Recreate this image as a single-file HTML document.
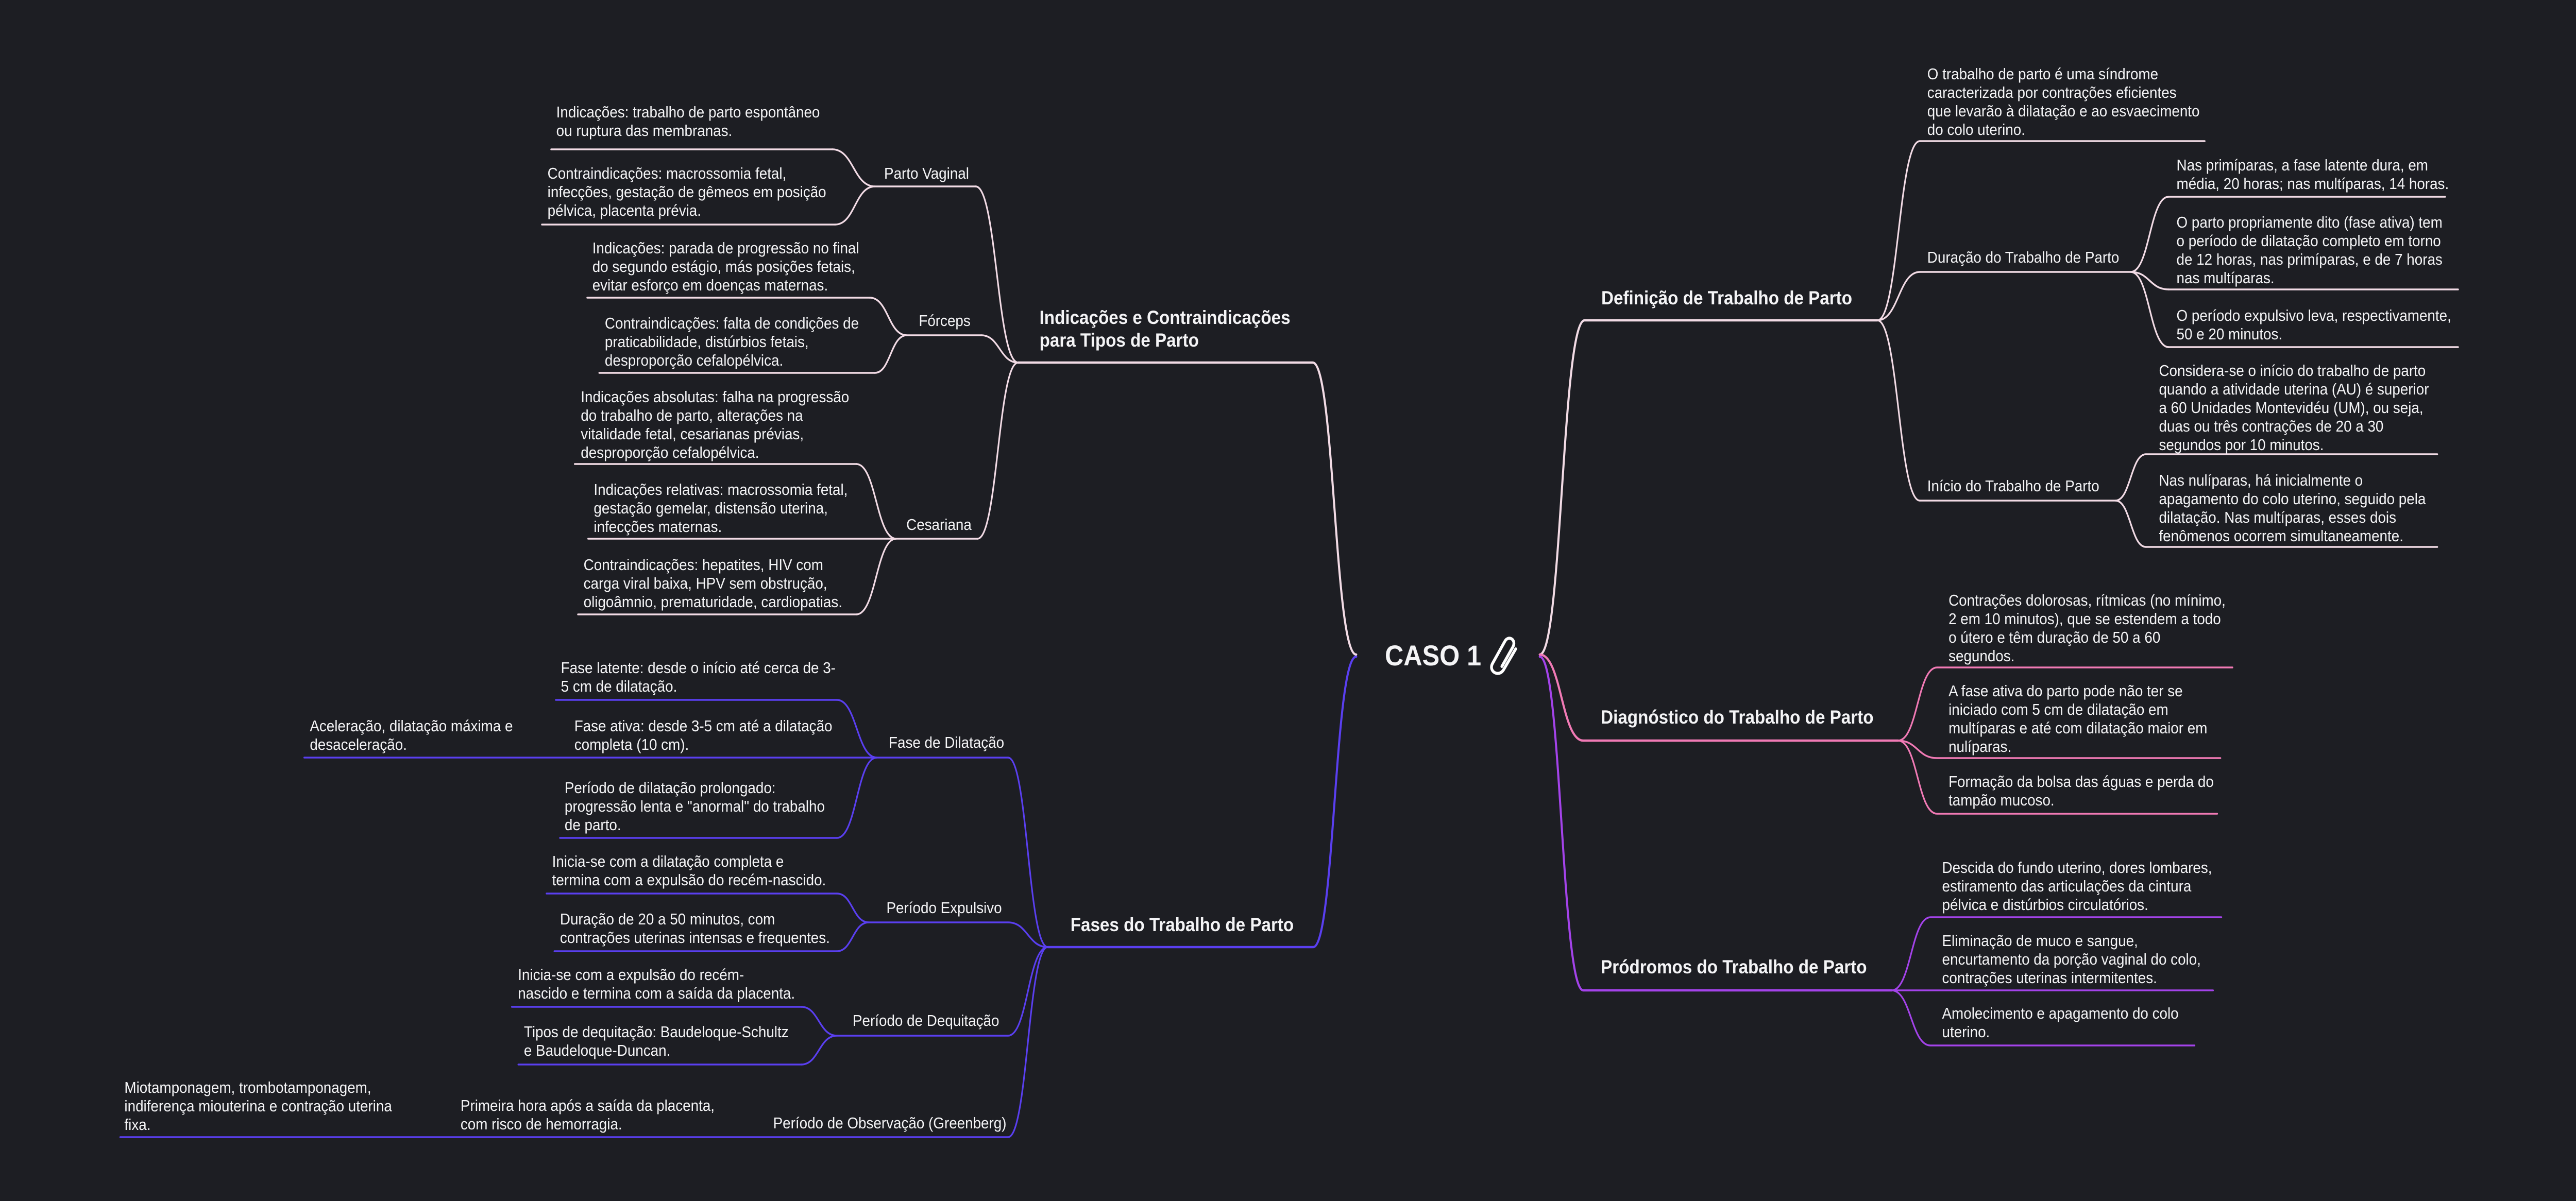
<!DOCTYPE html>
<html><head><meta charset="utf-8"><style>
html,body{margin:0;padding:0;background:#1d1e23;width:100%;height:100%;overflow:hidden;}
svg{display:block;width:100vw;height:100vh;}
text{font-family:"Liberation Sans",sans-serif;fill:#f4f4f6;font-size:31px;}
.h{font-size:37px;font-weight:bold;}
</style></head><body>
<svg viewBox="0 0 5571 2332" preserveAspectRatio="none" fill="none" stroke-linecap="round">
<rect x="0" y="0" width="5571" height="2332" fill="#1d1e23"/>
<g stroke="#f2dbe5" stroke-width="3.5">
<path d="M1192 290H1800M1172 436H1806M1270 578H1881M1296 724H1892M1243 901H1852M1272 1046H2114M1250 1193H1852M1892 362H2110M1961 651H2122"/>
<path d="M1800 290C1846 290 1846 362 1892 362M1806 436C1849 436 1849 362 1892 362M1881 578C1921 578 1921 651 1961 651M1892 724C1926 724 1926 651 1961 651M1852 901C1895 901 1895 1046 1938 1046M1852 1193C1895 1193 1895 1046 1938 1046"/>
<path d="M2110 362C2156 362 2156 704 2202 704M2122 651C2162 651 2162 704 2202 704M2114 1046C2158 1046 2158 704 2202 704"/>
<path stroke-width="4.5" d="M2202 704H2839M2839 704C2886 704 2886 1271 2933 1271"/>
<path d="M4152 274H4768M4152 528H4608M4690 382H5288M4690 562H5316M4690 674H5316M4152 972H4575M4641 882H5271M4641 1062H5271"/>
<path d="M4060 622C4106 622 4106 274 4152 274M4060 622C4106 622 4106 528 4152 528M4060 622C4106 622 4106 972 4152 972M4608 528C4649 528 4649 382 4690 382M4608 528C4649 528 4649 562 4690 562M4608 528C4649 528 4649 674 4690 674M4575 972C4608 972 4608 882 4641 882M4575 972C4608 972 4608 1062 4641 1062"/>
<path stroke-width="4.5" d="M3427 622H4060M3330 1271C3378 1271 3378 622 3427 622"/>
</g>
<g stroke="#5a3ff0" stroke-width="3.5">
<path d="M1202 1359H1810M658 1471H2180M1211 1627H1810M1182 1735H1810M1199 1847H1810M1879 1791H2180M1107 1955H1733M1121 2067H1733M1810 2011H2180M260 2208H2180"/>
<path d="M1810 1359C1853 1359 1853 1471 1896 1471M1810 1627C1853 1627 1853 1471 1896 1471M1810 1735C1844 1735 1844 1791 1879 1791M1810 1847C1844 1847 1844 1791 1879 1791M1733 1955C1771 1955 1771 2011 1810 2011M1733 2067C1771 2067 1771 2011 1810 2011"/>
<path d="M2180 1471C2223 1471 2223 1839 2266 1839M2180 1791C2223 1791 2223 1839 2266 1839M2180 2011C2223 2011 2223 1839 2266 1839M2180 2208C2223 2208 2223 1839 2266 1839"/>
<path stroke-width="4.5" d="M2266 1839H2840M2840 1839C2886 1839 2886 1275 2933 1275"/>
</g>
<g stroke="#f17ab5" stroke-width="3.5">
<path d="M4189 1296H4828M4189 1472H4802M4189 1580H4795M4105 1438C4147 1438 4147 1296 4189 1296M4105 1438C4147 1438 4147 1472 4189 1472M4105 1438C4147 1438 4147 1580 4189 1580"/>
<path stroke-width="4.5" d="M3424 1438H4105M3330 1271C3377 1271 3377 1438 3424 1438"/>
</g>
<g stroke="#a443ea" stroke-width="3.5">
<path d="M4175 1781H4804M4175 1923H4786M4175 2030H4746M4091 1923C4133 1923 4133 1781 4175 1781M4091 1923H4175M4091 1923C4133 1923 4133 2030 4175 2030"/>
<path stroke-width="4.5" d="M3424 1923H4091M3330 1275C3377 1275 3377 1923 3424 1923"/>
</g>
<g stroke="#ffffff" stroke-width="6" fill="none" stroke-linejoin="round" transform="translate(22,0)">
<path d="M3226 1294 L3250 1256 C3258 1242 3240 1232 3232 1246 L3206 1288 C3196 1304 3220 1316 3230 1300 L3256 1260"/>
</g>

<text x="2995" y="1292" style="font-size:56px;font-weight:bold">CASO 1</text>

<text class="h" x="2248" y="629">Indicações e Contraindicações<tspan x="2248" dy="44">para Tipos de Parto</tspan></text>
<text class="h" x="2315" y="1808">Fases do Trabalho de Parto</text>
<text class="h" x="3463" y="591">Definição de Trabalho de Parto</text>
<text class="h" x="3462" y="1405">Diagnóstico do Trabalho de Parto</text>
<text class="h" x="3462" y="1890">Pródromos do Trabalho de Parto</text>

<text x="1912" y="347">Parto Vaginal</text>
<text x="1987" y="633">Fórceps</text>
<text x="1960" y="1029">Cesariana</text>
<text x="1203" y="228">Indicações: trabalho de parto espontâneo<tspan x="1203" dy="36">ou ruptura das membranas.</tspan></text>
<text x="1184" y="347">Contraindicações: macrossomia fetal,<tspan x="1184" dy="36">infecções, gestação de gêmeos em posição</tspan><tspan x="1184" dy="36">pélvica, placenta prévia.</tspan></text>
<text x="1281" y="492">Indicações: parada de progressão no final<tspan x="1281" dy="36">do segundo estágio, más posições fetais,</tspan><tspan x="1281" dy="36">evitar esforço em doenças maternas.</tspan></text>
<text x="1308" y="638">Contraindicações: falta de condições de<tspan x="1308" dy="36">praticabilidade, distúrbios fetais,</tspan><tspan x="1308" dy="36">desproporção cefalopélvica.</tspan></text>
<text x="1256" y="781">Indicações absolutas: falha na progressão<tspan x="1256" dy="36">do trabalho de parto, alterações na</tspan><tspan x="1256" dy="36">vitalidade fetal, cesarianas prévias,</tspan><tspan x="1256" dy="36">desproporção cefalopélvica.</tspan></text>
<text x="1284" y="961">Indicações relativas: macrossomia fetal,<tspan x="1284" dy="36">gestação gemelar, distensão uterina,</tspan><tspan x="1284" dy="36">infecções maternas.</tspan></text>
<text x="1262" y="1107">Contraindicações: hepatites, HIV com<tspan x="1262" dy="36">carga viral baixa, HPV sem obstrução,</tspan><tspan x="1262" dy="36">oligoâmnio, prematuridade, cardiopatias.</tspan></text>

<text x="1922" y="1452">Fase de Dilatação</text>
<text x="1917" y="1773">Período Expulsivo</text>
<text x="1844" y="1992">Período de Dequitação</text>
<text x="1672" y="2191">Período de Observação (Greenberg)</text>
<text x="1213" y="1307">Fase latente: desde o início até cerca de 3-<tspan x="1213" dy="36">5 cm de dilatação.</tspan></text>
<text x="1242" y="1420">Fase ativa: desde 3-5 cm até a dilatação<tspan x="1242" dy="36">completa (10 cm).</tspan></text>
<text x="670" y="1420">Aceleração, dilatação máxima e<tspan x="670" dy="36">desaceleração.</tspan></text>
<text x="1221" y="1540">Período de dilatação prolongado:<tspan x="1221" dy="36">progressão lenta e "anormal" do trabalho</tspan><tspan x="1221" dy="36">de parto.</tspan></text>
<text x="1194" y="1683">Inicia-se com a dilatação completa e<tspan x="1194" dy="36">termina com a expulsão do recém-nascido.</tspan></text>
<text x="1211" y="1795">Duração de 20 a 50 minutos, com<tspan x="1211" dy="36">contrações uterinas intensas e frequentes.</tspan></text>
<text x="1120" y="1903">Inicia-se com a expulsão do recém-<tspan x="1120" dy="36">nascido e termina com a saída da placenta.</tspan></text>
<text x="1133" y="2014">Tipos de dequitação: Baudeloque-Schultz<tspan x="1133" dy="36">e Baudeloque-Duncan.</tspan></text>
<text x="996" y="2157">Primeira hora após a saída da placenta,<tspan x="996" dy="36">com risco de hemorragia.</tspan></text>
<text x="269" y="2122">Miotamponagem, trombotamponagem,<tspan x="269" dy="36">indiferença miouterina e contração uterina</tspan><tspan x="269" dy="36">fixa.</tspan></text>

<text x="4168" y="154">O trabalho de parto é uma síndrome<tspan x="4168" dy="36">caracterizada por contrações eficientes</tspan><tspan x="4168" dy="36">que levarão à dilatação e ao esvaecimento</tspan><tspan x="4168" dy="36">do colo uterino.</tspan></text>
<text x="4168" y="510">Duração do Trabalho de Parto</text>
<text x="4707" y="331">Nas primíparas, a fase latente dura, em<tspan x="4707" dy="36">média, 20 horas; nas multíparas, 14 horas.</tspan></text>
<text x="4707" y="442">O parto propriamente dito (fase ativa) tem<tspan x="4707" dy="36">o período de dilatação completo em torno</tspan><tspan x="4707" dy="36">de 12 horas, nas primíparas, e de 7 horas</tspan><tspan x="4707" dy="36">nas multíparas.</tspan></text>
<text x="4707" y="623">O período expulsivo leva, respectivamente,<tspan x="4707" dy="36">50 e 20 minutos.</tspan></text>
<text x="4168" y="954">Início do Trabalho de Parto</text>
<text x="4669" y="730">Considera-se o início do trabalho de parto<tspan x="4669" dy="36">quando a atividade uterina (AU) é superior</tspan><tspan x="4669" dy="36">a 60 Unidades Montevidéu (UM), ou seja,</tspan><tspan x="4669" dy="36">duas ou três contrações de 20 a 30</tspan><tspan x="4669" dy="36">segundos por 10 minutos.</tspan></text>
<text x="4669" y="943">Nas nulíparas, há inicialmente o<tspan x="4669" dy="36">apagamento do colo uterino, seguido pela</tspan><tspan x="4669" dy="36">dilatação. Nas multíparas, esses dois</tspan><tspan x="4669" dy="36">fenômenos ocorrem simultaneamente.</tspan></text>

<text x="4214" y="1176">Contrações dolorosas, rítmicas (no mínimo,<tspan x="4214" dy="36">2 em 10 minutos), que se estendem a todo</tspan><tspan x="4214" dy="36">o útero e têm duração de 50 a 60</tspan><tspan x="4214" dy="36">segundos.</tspan></text>
<text x="4214" y="1352">A fase ativa do parto pode não ter se<tspan x="4214" dy="36">iniciado com 5 cm de dilatação em</tspan><tspan x="4214" dy="36">multíparas e até com dilatação maior em</tspan><tspan x="4214" dy="36">nulíparas.</tspan></text>
<text x="4214" y="1528">Formação da bolsa das águas e perda do<tspan x="4214" dy="36">tampão mucoso.</tspan></text>
<text x="4200" y="1695">Descida do fundo uterino, dores lombares,<tspan x="4200" dy="36">estiramento das articulações da cintura</tspan><tspan x="4200" dy="36">pélvica e distúrbios circulatórios.</tspan></text>
<text x="4200" y="1837">Eliminação de muco e sangue,<tspan x="4200" dy="36">encurtamento da porção vaginal do colo,</tspan><tspan x="4200" dy="36">contrações uterinas intermitentes.</tspan></text>
<text x="4200" y="1978">Amolecimento e apagamento do colo<tspan x="4200" dy="36">uterino.</tspan></text>
</svg>
</body></html>
